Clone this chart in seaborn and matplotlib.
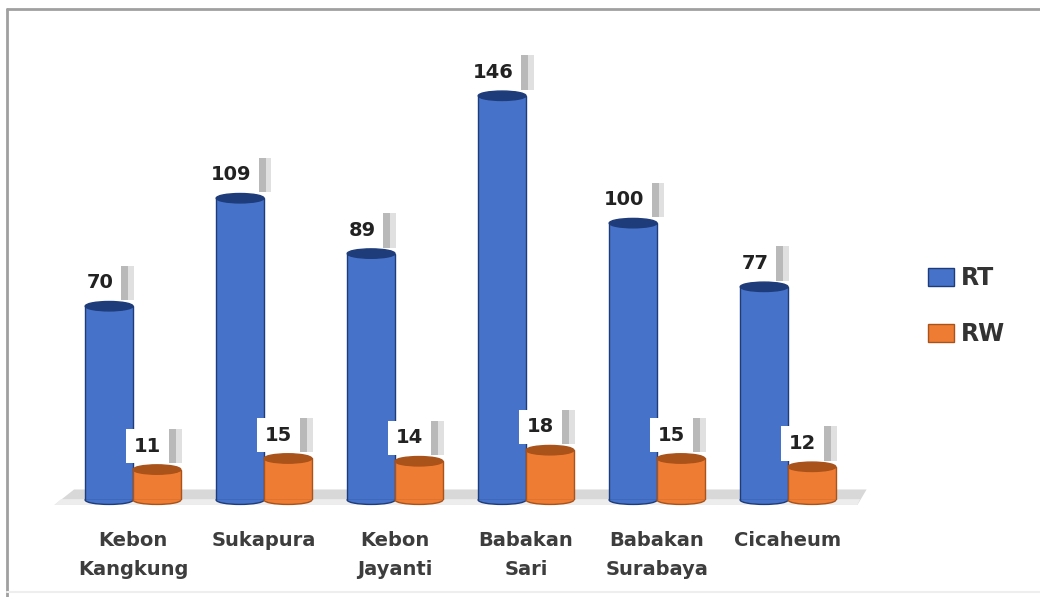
import numpy as np
import matplotlib
matplotlib.use("Agg")
import matplotlib.pyplot as plt
import matplotlib.patheffects as pe
from matplotlib.patches import Ellipse, Polygon, Patch
from matplotlib.lines import Line2D
import seaborn as sns
import pandas as pd

# data
kelurahan = ["Kebon\nKangkung", "Sukapura", "Kebon\nJayanti", "Babakan\nSari", "Babakan\nSurabaya", "Cicaheum"]
rt = [70, 109, 89, 146, 100, 77]
rw = [11, 15, 14, 18, 15, 12]
series = ["RT", "RW"]

colors = {"RT": "#4673C9", "RW": "#EE7D33"}
tops = {"RT": "#1E3C7A", "RW": "#A9521A"}

df = pd.DataFrame({
    "kelurahan": kelurahan * 2,
    "jumlah": rt + rw,
    "tipe": ["RT"] * len(rt) + ["RW"] * len(rw),
})

sns.set_style("white")
plt.rcParams["font.family"] = ["DejaVu Sans"]

fig = plt.figure(figsize=(10.4, 5.97), dpi=100)
ax = fig.add_axes([67.5 / 1040, 97 / 597, 786 / 1040, 443 / 597])

sns.barplot(data=df, x="kelurahan", y="jumlah", hue="tipe", palette=colors,
            width=0.73, ax=ax, legend=False, saturation=1, zorder=3)

ax.set_ylim(0, 160)
ax.set_xlim(-0.5, 5.5)

# floor
floor = Polygon([[-0.6, -1.8], [5.53, -1.8], [5.6, 3.8], [-0.45, 3.8]],
                closed=True, facecolor="#d8d8d8", edgecolor="none", zorder=1, clip_on=False)
ax.add_patch(floor)
floor2 = Polygon([[-0.6, -1.8], [5.53, -1.8], [5.55, 0.3], [-0.55, 0.3]],
                 closed=True, facecolor="#ededed", edgecolor="none", zorder=1.1, clip_on=False)
ax.add_patch(floor2)

# cylinder look + labels
for cont, name in zip(ax.containers, series):
    for bar, val in zip(cont.patches, cont.datavalues):
        x0 = bar.get_x()
        w = bar.get_width()
        h = bar.get_height()
        bar.set_edgecolor(tops[name])
        bar.set_linewidth(1.0)
        bot = Ellipse((x0 + w / 2, 0), w, 3.2, facecolor=colors[name],
                      edgecolor=tops[name], lw=1.0, zorder=2.9, clip_on=False)
        ax.add_patch(bot)
        cap = Ellipse((x0 + w / 2, h), w, 3.4, facecolor=tops[name],
                      edgecolor=tops[name], lw=1.0, zorder=3.5)
        ax.add_patch(cap)
        t = ax.text(x0 + w / 2 - 0.07, h + 5.0, f"{int(val)}", ha="center", va="bottom",
                    fontsize=14, fontweight="bold", color="#222222", zorder=6,
                    bbox=dict(boxstyle="square,pad=0.4", facecolor="white", edgecolor="none"))
        t.get_bbox_patch().set_path_effects([
            pe.SimplePatchShadow(offset=(9, 0), shadow_rgbFace="#9a9a9a", alpha=0.3),
            pe.SimplePatchShadow(offset=(5, 0), shadow_rgbFace="#8a8a8a", alpha=0.45),
            pe.Normal(),
        ])

ax.set_xlabel("")
ax.set_ylabel("")
ax.set_yticks([])
ax.tick_params(axis="x", length=0, pad=22)
for lab in ax.get_xticklabels():
    lab.set_fontsize(14)
    lab.set_fontweight("bold")
    lab.set_color("#3d3d3d")
    lab.set_linespacing(1.7)
    lab.set_va("top")
for s in ax.spines.values():
    s.set_visible(False)

# legend
handles = [Patch(facecolor=colors[n], edgecolor=tops[n], label=n) for n in series]
fig.legend(handles=handles, loc="center left", bbox_to_anchor=(907 / 1040, 1 - 306 / 597),
           frameon=False, prop={"size": 17, "weight": "bold"}, handlelength=1.1,
           handleheight=0.8, handletextpad=0.3, labelspacing=1.35, labelcolor="#333333")

# outer frame
fig.add_artist(Line2D([7 / 1040, 1], [1 - 8.5 / 597, 1 - 8.5 / 597], color="#a0a0a0", lw=2))
fig.add_artist(Line2D([7 / 1040, 7 / 1040], [1 - 8.5 / 597, 0], color="#a0a0a0", lw=2))
fig.add_artist(Line2D([7 / 1040, 1], [5 / 597, 5 / 597], color="#eeeeee", lw=1.5))

fig.savefig("out.png", dpi=100, facecolor="white")
